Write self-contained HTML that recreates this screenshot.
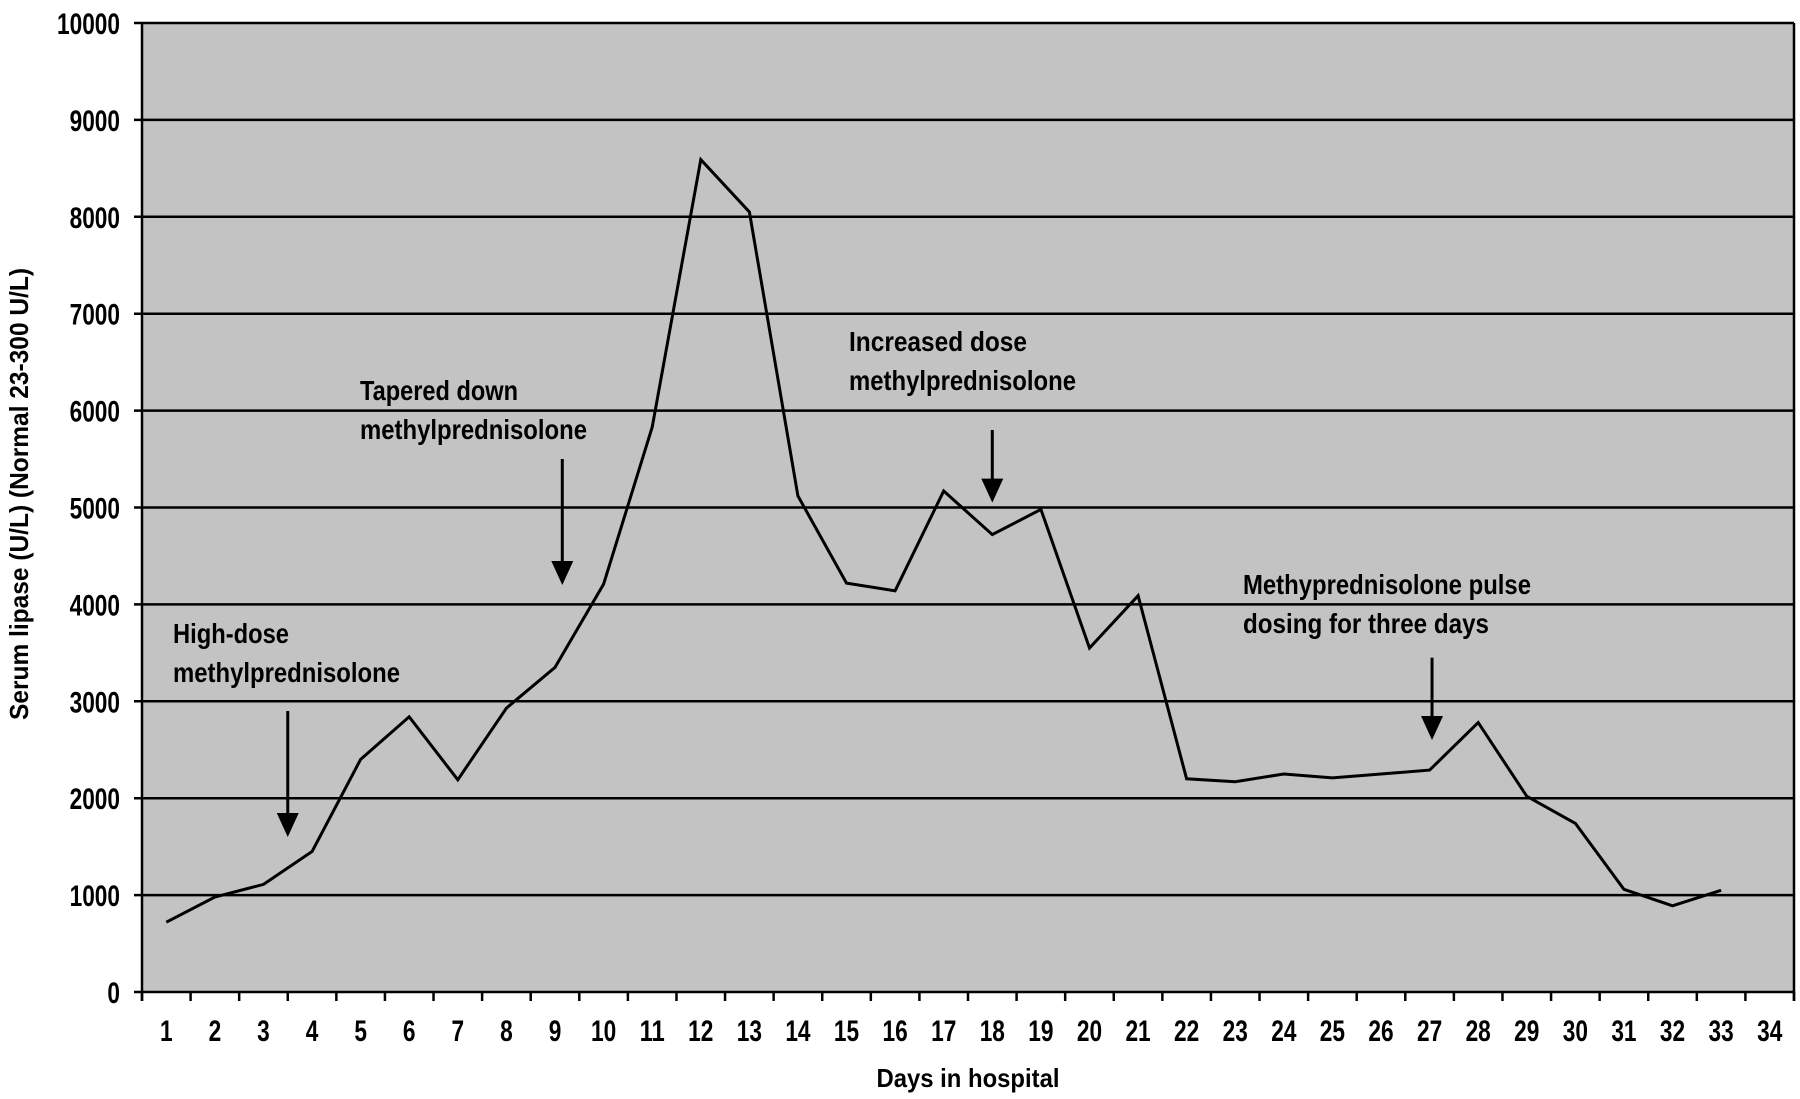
<!DOCTYPE html>
<html><head><meta charset="utf-8"><style>
html,body{margin:0;padding:0;background:#fff;}
svg{display:block;font-family:"Liberation Sans",sans-serif;font-weight:bold;}
</style></head><body>
<svg id="chart" width="1800" height="1099" viewBox="0 0 1800 1099">
<rect x="142" y="23" width="1652" height="969" fill="#c3c3c3"/>
<g id="grid"></g>
<g id="axes"></g>
<g id="series"></g>
<g id="annot"></g>
<text x="968" y="1087" font-size="26" text-anchor="middle" textLength="183" lengthAdjust="spacingAndGlyphs">Days in hospital</text>
<text transform="translate(28,494) rotate(-90)" font-size="26" text-anchor="middle" textLength="452" lengthAdjust="spacingAndGlyphs">Serum lipase (U/L) (Normal 23-300 U/L)</text>
</svg>
<script>
const days = [1,2,3,4,5,6,7,8,9,10,11,12,13,14,15,16,17,18,19,20,21,22,23,24,25,26,27,28,29,30,31,32,33];
const lipase = [720,980,1110,1450,2400,2840,2190,2930,3350,4210,5830,8590,8050,5120,4220,4140,5170,4720,4980,3550,4090,2200,2170,2250,2210,2250,2290,2780,2020,1740,1060,890,1050];
const yTicks = [0,1000,2000,3000,4000,5000,6000,7000,8000,9000,10000];
const xCats = [1,2,3,4,5,6,7,8,9,10,11,12,13,14,15,16,17,18,19,20,21,22,23,24,25,26,27,28,29,30,31,32,33,34];
const annotations = [
  {day:3.5, from:2900, to:1600, lines:["High-dose","methylprednisolone"], widths:[116,227], tx:173, ty:643},
  {day:9.15, from:5500, to:4200, lines:["Tapered down","methylprednisolone"], widths:[158,227], tx:360, ty:400},
  {day:18.0, from:5800, to:5050, lines:["Increased dose","methylprednisolone"], widths:[178,227], tx:849, ty:351},
  {day:27.05, from:3450, to:2600, lines:["Methyprednisolone pulse","dosing for three days"], widths:[288,246], tx:1243, ty:594}
];
const NS="http://www.w3.org/2000/svg";
const L=142,R=1794,T=23,B=992;
const bw=(R-L)/xCats.length;
function xs(d){return L+(d-0.5)*bw;}
function ys(v){return B-(v/10000)*(B-T);}
function mk(tag,attrs,parent){const e=document.createElementNS(NS,tag);for(const k in attrs)e.setAttribute(k,attrs[k]);parent.appendChild(e);return e;}
const grid=document.getElementById('grid'),axes=document.getElementById('axes'),series=document.getElementById('series'),annot=document.getElementById('annot');
yTicks.forEach(v=>{
  const y=ys(v);
  const ln=mk('line',{x1:L-8,x2:R,y1:y,y2:y,stroke:'#000','stroke-width':2.5},grid);
  
  
  const t=mk('text',{x:120,y:y+11,'font-size':30,'text-anchor':'end',textLength:String(v).length*12.6,lengthAdjust:'spacingAndGlyphs'},axes);
  t.textContent=v;
  
  
});
const ya=mk('line',{x1:L,x2:L,y1:T,y2:B+9,stroke:'#000','stroke-width':2.5},axes);


const rb=mk('line',{x1:R,x2:R,y1:T,y2:B+9,stroke:'#000','stroke-width':2.5},axes);


for(let i=0;i<=xCats.length;i++){
  const x=L+i*bw;
  const tk=mk('line',{x1:x,x2:x,y1:B,y2:B+9,stroke:'#000','stroke-width':2.5},axes);
  
  
}
xCats.forEach(d=>{
  const t=mk('text',{x:xs(d),y:1041,'font-size':30,'text-anchor':'middle',textLength:String(d).length*12.6,lengthAdjust:'spacingAndGlyphs'},axes);
  t.textContent=d;
  
  
});
const pts=days.map((d,i)=>xs(d).toFixed(1)+','+ys(lipase[i]).toFixed(1)).join(' ');
const pl=mk('polyline',{points:pts,fill:'none',stroke:'#000','stroke-width':3,'stroke-linejoin':'miter'},series);


annotations.forEach((a,i)=>{
  const x=xs(a.day),y1=ys(a.from),y2=ys(a.to);
  const sh=mk('line',{x1:x,x2:x,y1:y1,y2:y2-22,stroke:'#000','stroke-width':3},annot);
  
  
  const hd=mk('polygon',{points:(x-11)+','+(y2-24)+' '+(x+11)+','+(y2-24)+' '+x+','+y2,fill:'#000'},annot);
  
  
  a.lines.forEach((s,j)=>{
    const t=mk('text',{x:a.tx,y:a.ty+j*39,'font-size':28,textLength:a.widths[j],lengthAdjust:'spacingAndGlyphs'},annot);
    t.textContent=s;
    
    
  });
});
</script>
</body></html>
